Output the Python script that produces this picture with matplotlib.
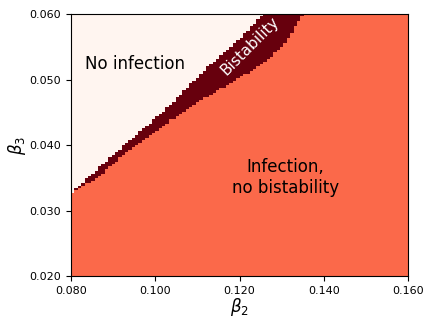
import numpy as np
import matplotlib
matplotlib.use("Agg")
import matplotlib.pyplot as plt

# boundary points (beta2 -> beta3)
beta2_knots = [0.080, 0.0874, 0.0916, 0.0995, 0.1035, 0.1118, 0.1192, 0.1256, 0.1296, 0.1351, 0.160]
# no infection / bistability border
upper_border = [0.0326, 0.0370, 0.0394, 0.0438, 0.0461, 0.0515, 0.0557, 0.0600, 0.0625, 0.0660, 0.0800]
# bistability / infection border
lower_border = [0.0324, 0.0357, 0.0380, 0.0418, 0.0438, 0.0472, 0.0499, 0.0526, 0.0546, 0.0598, 0.0720]

region_labels = ["No infection", "Bistability", "Infection,\nno bistability"]
region_values = [0.0, 1.0, 0.5]   # position on the Reds colormap

n_cols, n_rows = 100, 110
b2_edges = np.linspace(0.08, 0.16, n_cols + 1)
b3_edges = np.linspace(0.02, 0.06, n_rows + 1)
b2_mid = 0.5 * (b2_edges[:-1] + b2_edges[1:])
b3_mid = 0.5 * (b3_edges[:-1] + b3_edges[1:])

up = np.interp(b2_mid, beta2_knots, upper_border)
lo = np.interp(b2_mid, beta2_knots, lower_border)
B3 = b3_mid[:, None]
Z = np.full((n_rows, n_cols), region_values[2])
Z[B3 > lo[None, :]] = region_values[1]
Z[B3 > up[None, :]] = region_values[0]

fig = plt.figure(figsize=(4.36, 3.27), dpi=100)
ax = fig.add_axes([0.163, 0.156, 0.773, 0.801])
ax.pcolormesh(b2_edges, b3_edges, Z, cmap="Reds", vmin=0, vmax=1, shading="flat")

ax.set_xlim(0.08, 0.16)
ax.set_ylim(0.02, 0.06)
ax.set_xticks([0.08, 0.10, 0.12, 0.14, 0.16])
ax.set_yticks([0.02, 0.03, 0.04, 0.05, 0.06])
ax.xaxis.set_major_formatter(plt.FormatStrFormatter("%.3f"))
ax.yaxis.set_major_formatter(plt.FormatStrFormatter("%.3f"))
ax.tick_params(labelsize=8)
ax.set_xlabel(r"$\beta_2$", fontsize=12, labelpad=0)
ax.set_ylabel(r"$\beta_3$", fontsize=12, labelpad=1)

ax.text(0.0952, 0.0524, region_labels[0], fontsize=12, ha="center", va="center")
ax.text(0.1225, 0.0552, region_labels[1], fontsize=11, ha="center", va="center",
        rotation=45, color="white")
ax.text(0.1308, 0.0350, region_labels[2], fontsize=12, ha="center", va="center",
        multialignment="center")

fig.savefig("out.png", dpi=100)
